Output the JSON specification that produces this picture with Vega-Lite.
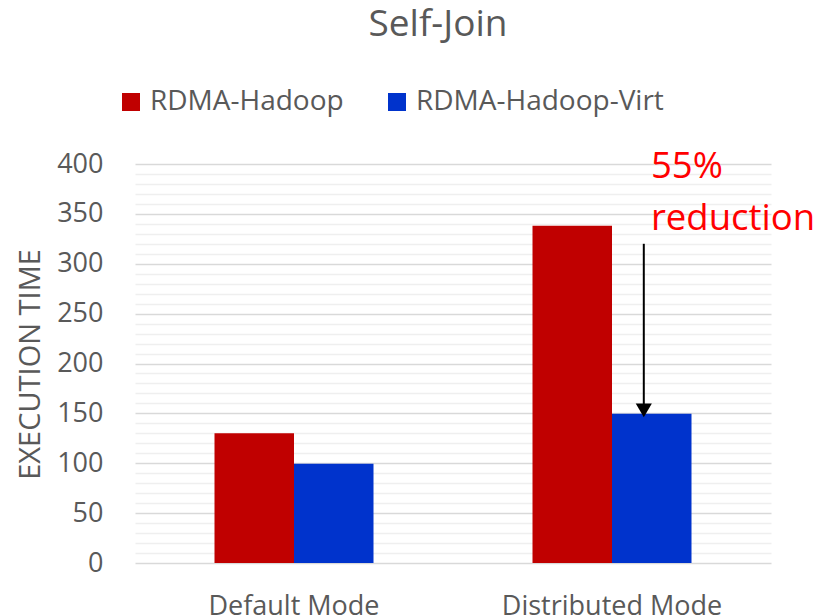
{
  "$schema": "https://vega.github.io/schema/vega-lite/v6.json",
  "width": 636,
  "height": 399,
  "autosize": {"type": "none"},
  "padding": {"left": 135, "top": 164, "right": 48, "bottom": 53},
  "background": "white",
  "config": {"view": {"stroke": null}, "font": "Open Sans"},
  "title": {
    "text": "Self-Join",
    "fontSize": 37,
    "font": "Open Sans",
    "fontWeight": "normal",
    "color": "#595959",
    "anchor": "middle",
    "dx": -15,
    "offset": 15,
    "baseline": "alphabetic"
  },
  "data": {
    "values": [
      {"mode": "Default Mode", "series": "RDMA-Hadoop", "value": 130},
      {"mode": "Default Mode", "series": "RDMA-Hadoop-Virt", "value": 99.5},
      {"mode": "Distributed Mode", "series": "RDMA-Hadoop", "value": 338},
      {"mode": "Distributed Mode", "series": "RDMA-Hadoop-Virt", "value": 149.5}
    ]
  },
  "layer": [
    {
      "mark": {"type": "bar"},
      "encoding": {
        "x": {
          "field": "mode",
          "type": "nominal",
          "scale": {"paddingInner": 0.5, "paddingOuter": 0.25},
          "axis": {
            "title": null,
            "labelFontSize": 27,
            "labelColor": "#595959",
            "labelAngle": 0,
            "ticks": false,
            "domain": false,
            "grid": false,
            "labelPadding": 30,
            "labelLimit": 400
          }
        },
        "xOffset": {
          "field": "series",
          "type": "nominal",
          "scale": {"paddingInner": 0, "paddingOuter": 0}
        },
        "y": {
          "field": "value",
          "type": "quantitative",
          "scale": {"domain": [0, 400], "nice": false},
          "axis": {
            "title": "EXECUTION TIME",
            "values": [0,10,20,30,40,50,60,70,80,90,100,110,120,130,140,150,160,170,180,190,200,210,220,230,240,250,260,270,280,290,300,310,320,330,340,350,360,370,380,390,400],
            "tickCount": 100,
            "gridColor": {"condition": {"test": "datum.value % 50 === 0", "value": "#d9d9d9"}, "value": "#efefef"},
            "gridWidth": 1.3,
            "labelExpr": "datum.value % 50 === 0 ? datum.label : ''",
            "labelOverlap": false,
            "labelFlush": false,
            "ticks": false,
            "domain": false,
            "labelFontSize": 27,
            "labelColor": "#595959",
            "labelPadding": 32,
            "titleFontSize": 29,
            "titleFontWeight": "normal",
            "titleColor": "#595959",
            "titleX": -105,
            "titleY": 200,
            "titleAngle": -90,
            "titleAlign": "center",
            "titleBaseline": "middle"
          }
        },
        "color": {
          "field": "series",
          "type": "nominal",
          "scale": {"domain": ["RDMA-Hadoop", "RDMA-Hadoop-Virt"], "range": ["#C00000", "#0033CC"]},
          "legend": {
            "orient": "none",
            "legendX": -18,
            "legendY": -76,
            "direction": "horizontal",
            "title": null,
            "symbolType": "square",
            "symbolSize": 324,
            "symbolStrokeWidth": 0,
            "labelFontSize": 28,
            "labelColor": "#595959",
            "labelLimit": 400,
            "labelOffset": 5,
            "columnPadding": 39
          }
        }
      }
    },
    {
      "data": {"values": [{"note": "arrow"}]},
      "mark": {"type": "rule", "color": "black", "strokeWidth": 2},
      "encoding": {
        "x": {"datum": "Distributed Mode", "bandPosition": 0.7},
        "y": {"datum": 320, "type": "quantitative"},
        "y2": {"datum": 158}
      }
    },
    {
      "data": {"values": [{"note": "arrowhead"}]},
      "mark": {"type": "point", "shape": "triangle-down", "size": 260, "filled": true, "color": "black", "opacity": 1},
      "encoding": {
        "x": {"datum": "Distributed Mode", "bandPosition": 0.7},
        "y": {"datum": 153, "type": "quantitative"}
      }
    },
    {
      "data": {"values": [{"note": "55%\nreduction"}]},
      "mark": {"type": "text", "align": "left", "baseline": "alphabetic", "fontSize": 36.5, "color": "#FF0000", "lineHeight": 52, "lineBreak": "\n"},
      "encoding": {
        "x": {"datum": "Distributed Mode", "bandPosition": 0.745},
        "y": {"datum": 386, "type": "quantitative"},
        "text": {"field": "note"}
      }
    }
  ]
}
